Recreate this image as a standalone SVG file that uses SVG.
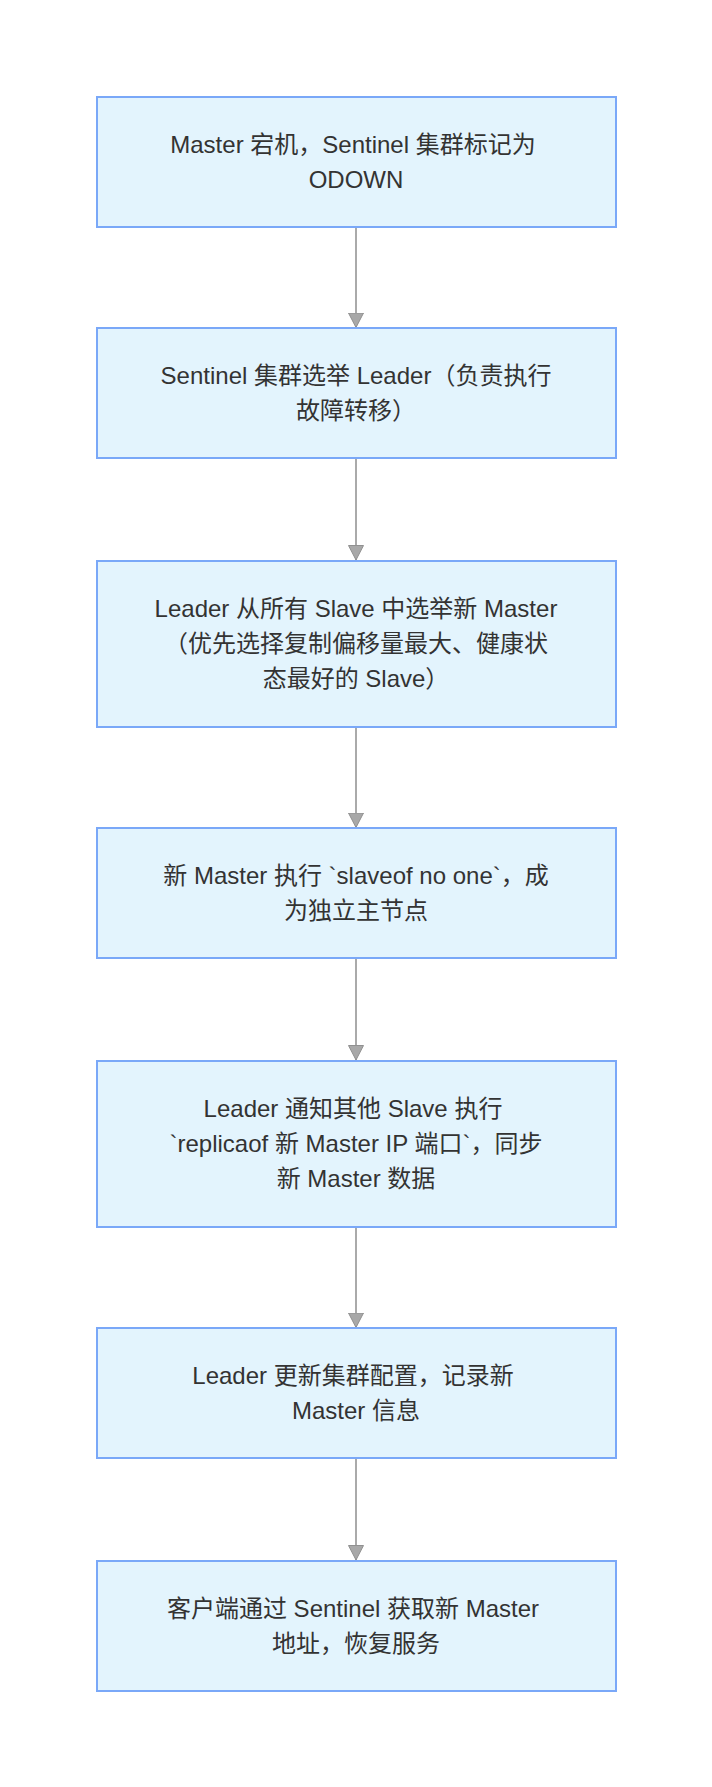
<svg xmlns="http://www.w3.org/2000/svg" width="712" height="1787" viewBox="0 0 712 1787">
<style>
.box{fill:#e3f4fd;stroke:#7aa8f8;stroke-width:2}
.lbl{font-family:"Liberation Sans","Noto Sans CJK SC",sans-serif;font-size:24px;fill:#333;text-anchor:middle}
.edge{stroke:#aaaaaa;stroke-width:2;fill:none}
</style>
<defs>
<marker id="arr" viewBox="0 0 16 16" refX="15" refY="8" markerWidth="16" markerHeight="16" markerUnits="userSpaceOnUse" orient="auto">
<path d="M0.5,0.5 L15,8 L0.5,15.5 Z" fill="#a8a8a8" stroke="#909090" stroke-width="1"/>
</marker>
</defs>
<rect width="712" height="1787" fill="#ffffff"/>
<g id="connectors">
<line class="edge" x1="356" y1="228" x2="356" y2="327.5" marker-end="url(#arr)"/>
<line class="edge" x1="356" y1="459" x2="356" y2="560" marker-end="url(#arr)"/>
<line class="edge" x1="356" y1="728" x2="356" y2="827.5" marker-end="url(#arr)"/>
<line class="edge" x1="356" y1="959" x2="356" y2="1060" marker-end="url(#arr)"/>
<line class="edge" x1="356" y1="1228" x2="356" y2="1327.5" marker-end="url(#arr)"/>
<line class="edge" x1="356" y1="1459" x2="356" y2="1560" marker-end="url(#arr)"/>
</g>
<g id="n1">
<rect class="box" x="97" y="97" width="519" height="130"/>
<text class="lbl" x="353" y="152.5">Master 宕机，Sentinel 集群标记为</text>
<text class="lbl" x="356" y="187.5">ODOWN</text>
</g>
<g id="n2">
<rect class="box" x="97" y="328" width="519" height="130"/>
<text class="lbl" x="356" y="383.5">Sentinel 集群选举 Leader（负责执行</text>
<text class="lbl" x="356" y="418.5">故障转移）</text>
</g>
<g id="n3">
<rect class="box" x="97" y="561" width="519" height="166"/>
<text class="lbl" x="356" y="617">Leader 从所有 Slave 中选举新 Master</text>
<text class="lbl" x="356" y="652">（优先选择复制偏移量最大、健康状</text>
<text class="lbl" x="356" y="687">态最好的 Slave）</text>
</g>
<g id="n4">
<rect class="box" x="97" y="828" width="519" height="130"/>
<text class="lbl" x="356" y="883.5">新 Master 执行 `slaveof no one`，成</text>
<text class="lbl" x="356" y="918.5">为独立主节点</text>
</g>
<g id="n5">
<rect class="box" x="97" y="1061" width="519" height="166"/>
<text class="lbl" x="353" y="1117">Leader 通知其他 Slave 执行</text>
<text class="lbl" x="356" y="1152">`replicaof 新 Master IP 端口`，同步</text>
<text class="lbl" x="356" y="1187">新 Master 数据</text>
</g>
<g id="n6">
<rect class="box" x="97" y="1328" width="519" height="130"/>
<text class="lbl" x="353" y="1383.5">Leader 更新集群配置，记录新</text>
<text class="lbl" x="356" y="1418.5">Master 信息</text>
</g>
<g id="n7">
<rect class="box" x="97" y="1561" width="519" height="130"/>
<text class="lbl" x="353" y="1616.5">客户端通过 Sentinel 获取新 Master</text>
<text class="lbl" x="356" y="1651.5">地址，恢复服务</text>
</g>
</svg>
